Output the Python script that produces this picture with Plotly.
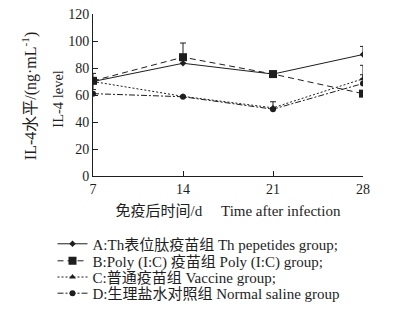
import plotly.graph_objects as go

days = [7, 14, 21, 28]
a_vals = [70, 83.5, 75.5, 90]
a_err = [6, 0, 0, 6]
b_vals = [70.5, 88, 75.5, 61]
b_err = [0, 10.5, 0, 0]
c_vals = [70, 59, 50.5, 72]
c_err = [0, 0, 0, 10]
d_vals = [61, 58.7, 49.5, 68.5]
d_err = [0, 0, 5.5, 6.5]
y_ticks = [0, 20, 40, 60, 80, 100, 120]

names = ["A:Th表位肽疫苗组 Th pepetides group;",
         "B:Poly (I:C) 疫苗组 Poly (I:C) group;",
         "C:普通疫苗组 Vaccine group;",
         "D:生理盐水对照组 Normal saline group"]

ink = "#1e1e1e"
font_fam = "Liberation Serif, Noto Sans CJK SC, serif"

fig = go.Figure()

def add(vals, err, name, dash, symbol, size, legend_id):
    fig.add_trace(go.Scatter(
        x=days, y=vals, name=name, mode="lines+markers", legend=legend_id,
        line=dict(color=ink, dash=dash, width=1),
        marker=dict(symbol=symbol, size=size, color=ink),
        error_y=dict(type="data", array=err,
                     arrayminus=[e if i == 0 else 0 for i, e in enumerate(err)],
                     symmetric=False, color=ink, thickness=1, width=3),
    ))

add(a_vals, a_err, names[0], "solid", "diamond", 5, "legend")
add(b_vals, b_err, names[1], "6px,4px", "square", 8, "legend2")
add(c_vals, c_err, names[2], "2px,2px", "triangle-up", 6, "legend3")
add(d_vals, d_err, names[3], "6px,2px,2px,2px", "circle", 6, "legend4")

# legend rows (paper coords relative to plot area: 0 at y=176px, 1 at y=14px)
row_y = [-0.42, -0.525, -0.625, -0.725]
leg_common = dict(x=-0.15, xanchor="left", yanchor="middle",
                  font=dict(size=15, family=font_fam, color=ink),
                  bgcolor="rgba(0,0,0,0)", itemwidth=30)

fig.update_layout(
    width=413, height=310,
    margin=dict(l=93, r=50, t=14, b=134, autoexpand=False),
    paper_bgcolor="white", plot_bgcolor="white",
    font=dict(family=font_fam, size=14, color=ink),
    showlegend=True,
    legend=dict(y=row_y[0], **leg_common),
    legend2=dict(y=row_y[1], **leg_common),
    legend3=dict(y=row_y[2], **leg_common),
    legend4=dict(y=row_y[3], **leg_common),
)
fig.update_xaxes(
    range=[7, 28], tickvals=days, ticktext=[str(d) for d in days],
    showline=True, linecolor=ink, linewidth=1, ticks="inside", ticklen=5, tickcolor=ink,
    showgrid=False, zeroline=False,
    title=dict(text="免疫后时间/d\u00a0\u00a0\u00a0\u00a0\u00a0Time after infection",
               font=dict(size=15), standoff=9),
)
fig.update_yaxes(
    range=[0, 120], tickvals=y_ticks, ticktext=[str(v) for v in y_ticks],
    ticklabeloverflow="allow",
    showline=True, linecolor=ink, linewidth=1, ticks="inside", ticklen=5, tickcolor=ink,
    showgrid=False, zeroline=False,
)
fig.add_annotation(text="IL-4水平/(ng·mL<sup>-1</sup>)", textangle=-90,
                   xref="paper", yref="paper", x=-0.235, y=0.49,
                   xanchor="center", yanchor="middle", showarrow=False,
                   font=dict(size=16, family=font_fam, color=ink))
fig.add_annotation(text="IL-4 level", textangle=-90,
                   xref="paper", yref="paper", x=-0.128, y=0.48,
                   xanchor="center", yanchor="middle", showarrow=False,
                   font=dict(size=14.5, family=font_fam, color=ink))

fig.write_html("out.html", config={"displayModeBar": False},
               post_script="document.body.style.margin='0px';document.body.style.overflow='hidden';")
